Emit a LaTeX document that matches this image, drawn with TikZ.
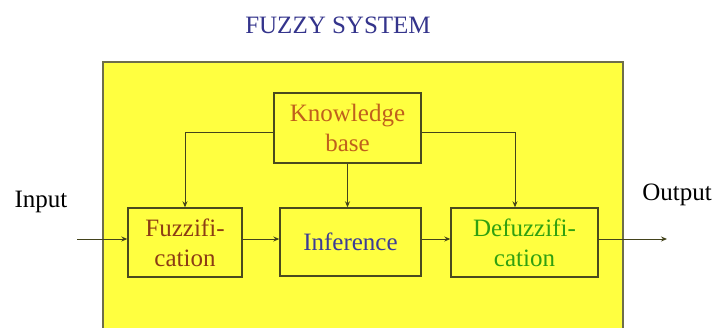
\documentclass[tikz,border=0pt]{standalone}
\usepackage{fontspec}
\setmainfont{Liberation Serif}
\usetikzlibrary{arrows.meta}
\definecolor{bgyellow}{HTML}{FFFF40}
\definecolor{boxedge}{HTML}{4A4A1E}
\definecolor{titleblue}{HTML}{34348C}
\definecolor{kbcol}{HTML}{C0601C}
\definecolor{fuzcol}{HTML}{8C3C14}
\definecolor{infcol}{HTML}{3C3C96}
\definecolor{defcol}{HTML}{30A010}
\tikzset{
  blockbox/.style={draw=boxedge, line width=1.4pt, fill=bgyellow, align=center,
    inner sep=0pt, font=\rmfamily\fontsize{25}{30}\selectfont},
  conn/.style={draw=boxedge!90!black, line width=0.9pt},
  arr/.style={conn, -{Stealth[length=6pt,width=5pt]}},
  plain/.style={font=\rmfamily\fontsize{25}{30}\selectfont, inner sep=0pt}
}
\begin{document}
\begin{tikzpicture}[x=1pt,y=-1pt]
\useasboundingbox (0,0) rectangle (717,327);
\fill[white] (0,0) rectangle (717,327);
% yellow panel
\fill[bgyellow] (103,62) rectangle (623,340);
\draw[draw=boxedge!80, line width=1.2pt] (103,340) -- (103,62) -- (623,62) -- (623,340);
% title
\node[plain, text=titleblue, anchor=base] (title) at (338,33) {FUZZY SYSTEM};
% blocks
\node[blockbox, minimum width=147pt, minimum height=70pt, text=kbcol] (kb) at (347.5,128) {Knowledge\\base};
\node[blockbox, minimum width=114pt, minimum height=69pt, text=fuzcol] (fuz) at (185,242.5) {Fuzzifi-\\cation};
\node[blockbox, minimum width=141pt, minimum height=68pt, text=infcol] (inf) at (350.5,242) {Inference};
\node[blockbox, minimum width=147pt, minimum height=69pt, text=defcol] (def) at (524.5,242.5) {Defuzzifi-\\cation};
% labels
\node[plain, anchor=base] (inp) at (41,207) {Input};
\node[plain, anchor=base] (outp) at (677,200) {Output};
% helper coordinates
\coordinate (ylev) at (0,239);
\coordinate (kbl) at (0,132);
\coordinate (leftx) at (185,0);
\coordinate (rightx) at (515,0);
\coordinate (instart) at (77,239);
\coordinate (outend) at (667,239);
% connectors
\draw[arr] (instart) -- (fuz.west |- ylev);
\draw[arr] (fuz.east |- ylev) -- (inf.west |- ylev);
\draw[arr] (inf.east |- ylev) -- (def.west |- ylev);
\draw[arr] (def.east |- ylev) -- (outend);
\draw[arr] (kb.west |- kbl) -| (leftx |- fuz.north);
\draw[arr] (kb.east |- kbl) -| (rightx |- def.north);
\draw[arr] (kb.south) -- (kb.south |- inf.north);
\end{tikzpicture}
\end{document}
